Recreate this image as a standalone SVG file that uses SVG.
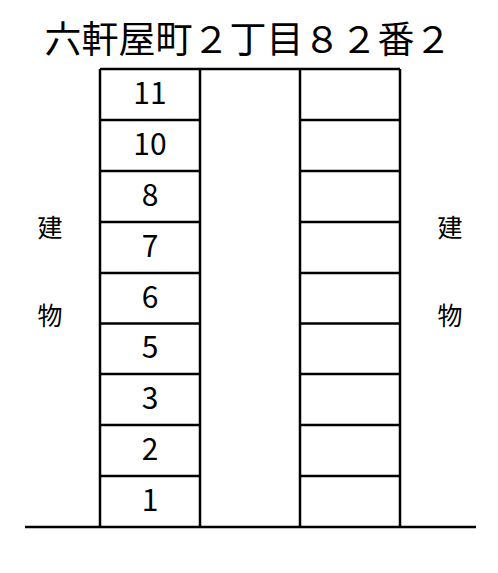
<svg xmlns="http://www.w3.org/2000/svg" width="498" height="573" viewBox="0 0 498 573">
<style>
.ln{stroke:#000;stroke-width:2.5;fill:none}
.t{font-family:"Noto Sans CJK JP","Noto Sans",sans-serif;fill:#000;text-anchor:middle}
.n{font-size:30px}
.s{font-size:25px}
</style>
<rect width="498" height="573" fill="#fff"/>
<g id="title"><text class="t" x="248" y="53" font-size="37">六軒屋町２丁目８２番２</text></g>
<g id="building-left"><text class="t s" x="50" y="237">建</text><text class="t s" x="50" y="325">物</text></g>
<g id="building-right"><text class="t s" x="450" y="237">建</text><text class="t s" x="450" y="325">物</text></g>
<g id="connectors">
<path class="ln" d="M100 69H400M25 527H476M100 69V527M200 69V527M300 69V527M400 69V527"/>
<path class="ln" d="M100 120H200M100 171H200M100 222H200M100 273H200M100 323.5H200M100 374H200M100 425H200M100 476H200"/>
<path class="ln" d="M300 120H400M300 171H400M300 222H400M300 273H400M300 323.5H400M300 374H400M300 425H400M300 476H400"/>
</g>
<g id="left-spaces">
<text class="t n" x="150" y="104">11</text>
<text class="t n" x="150" y="155">10</text>
<text class="t n" x="150" y="206">8</text>
<text class="t n" x="150" y="257">7</text>
<text class="t n" x="150" y="308">6</text>
<text class="t n" x="150" y="358">5</text>
<text class="t n" x="150" y="409">3</text>
<text class="t n" x="150" y="460">2</text>
<text class="t n" x="150" y="511">1</text>
</g>
</svg>
